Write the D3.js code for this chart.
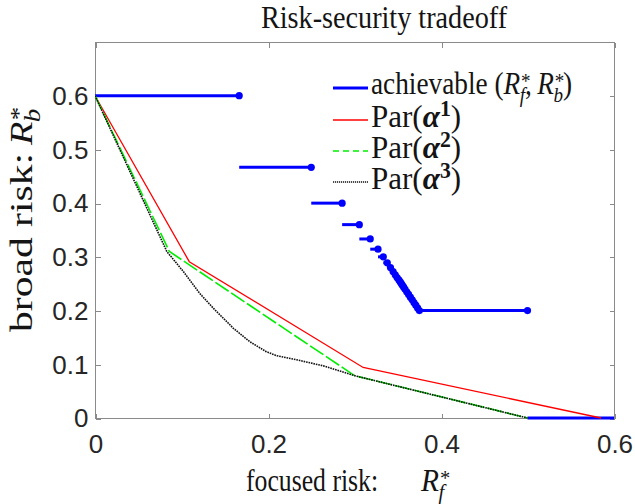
<!DOCTYPE html>
<html>
<head>
<meta charset="utf-8">
<script src="https://cdn.jsdelivr.net/npm/d3@7"></script>
<style>
  html, body { margin: 0; padding: 0; background: #fff; }
  svg { display: block; }
</style>
</head>
<body>
<svg id="chart" width="635" height="504"></svg>
<script>
// Achievable (R_f*, R_b*) corners. Step i runs horizontally from the previous
// corner's focused risk (0 for the first) to achF[i] at broad risk achB[i].
const achF = [0.1667, 0.25, 0.2857, 0.3056, 0.3182, 0.3272, 0.3333, 0.3379, 0.3416,
              0.3446, 0.3471, 0.3492, 0.3513, 0.3529, 0.3542, 0.3554, 0.3567, 0.3583,
              0.3604, 0.3625, 0.3646, 0.3667, 0.3687, 0.3708, 0.3729, 0.375, 0.5];
const achB = [0.6, 0.4667, 0.4, 0.36, 0.3333, 0.3143, 0.30, 0.2889, 0.28,
              0.2727, 0.2667, 0.2615, 0.2571, 0.2533, 0.25, 0.247, 0.244, 0.24,
              0.235, 0.23, 0.225, 0.22, 0.215, 0.21, 0.205, 0.2, 0.2];
// Zero broad risk is achievable once focused risk reaches 0.5
const floorF = [0.5, 0.6];
const floorB = [0, 0];

// Pareto fronts for the three weightings
const par1F = [0, 0.109, 0.310, 0.585];
const par1B = [0.6, 0.291, 0.094, 0];
const par2F = [0, 0.086, 0.300, 0.5];
const par2B = [0.6, 0.310, 0.079, 0];
const par3F = [0, 0.083, 0.102, 0.121, 0.137, 0.160, 0.179, 0.198, 0.210, 0.237, 0.264, 0.302, 0.5];
const par3B = [0.6, 0.310, 0.273, 0.232, 0.204, 0.167, 0.142, 0.1235, 0.116, 0.107, 0.097, 0.078, 0];

const xTicks = [0, 0.2, 0.4, 0.6];
const xTickLabels = ["0", "0.2", "0.4", "0.6"];
const yTicks = [0, 0.1, 0.2, 0.3, 0.4, 0.5, 0.6];
const yTickLabels = ["0", "0.1", "0.2", "0.3", "0.4", "0.5", "0.6"];

const legendLabels = ["achievable", "Par", "Par", "Par"];
const legendExps = [null, "1", "2", "3"];

const plot = { left: 95, right: 614, top: 42, bottom: 418 };
const SERIF = "'Liberation Serif', 'Times New Roman', serif";
const SANS = "'Liberation Sans', Arial, Helvetica, sans-serif";
const INK = "#262626";
const TEXT = "#141414";

const svg = d3.select("#chart");

const x = d3.scaleLinear().domain([0, 0.6]).range([plot.left, plot.right]);
const y = d3.scaleLinear().domain([0, 0.7]).range([plot.bottom, plot.top]);

svg.append("defs").append("clipPath").attr("id", "plotClip")
  .append("rect")
  .attr("x", plot.left).attr("y", plot.top - 6)
  .attr("width", plot.right - plot.left).attr("height", plot.bottom - plot.top + 8);

// Axes box
svg.append("rect")
  .attr("x", plot.left + 0.5).attr("y", plot.top + 0.5)
  .attr("width", plot.right - plot.left).attr("height", plot.bottom - plot.top)
  .attr("fill", "none").attr("stroke", "#8a8a8a").attr("stroke-width", 1)
  .attr("shape-rendering", "crispEdges");

function styleAxis(g) {
  g.select(".domain").remove();
  g.selectAll(".tick line").attr("stroke", "#8a8a8a").attr("shape-rendering", "crispEdges");
  g.selectAll(".tick text").attr("fill", INK).attr("font-family", SANS).attr("font-size", 26);
}

svg.append("g").attr("transform", `translate(0.5,${plot.bottom + 0.5})`)
  .call(d3.axisBottom(x).tickValues(xTicks).tickSize(-5).tickPadding(16.5)
    .tickFormat((d, i) => xTickLabels[i]))
  .call(styleAxis);
svg.append("g").attr("transform", `translate(0.5,${plot.top + 0.5})`)
  .call(d3.axisTop(x).tickValues(xTicks).tickSize(-5).tickFormat(""))
  .call(styleAxis);
svg.append("g").attr("transform", `translate(${plot.left + 0.5},0.5)`)
  .call(d3.axisLeft(y).tickValues(yTicks).tickSize(-5).tickPadding(7)
    .tickFormat((d, i) => yTickLabels[i]))
  .call(styleAxis);
svg.append("g").attr("transform", `translate(${plot.right + 0.5},0.5)`)
  .call(d3.axisRight(y).tickValues(yTicks).tickSize(-5).tickFormat(""))
  .call(styleAxis);

// Data layer
const data = svg.append("g").attr("clip-path", "url(#plotClip)");
const BLUE = "#0000ff", RED = "#ff0000", GREEN = "#00ee00", BLACK = "#111";

const steps = achF.map((f, i) => ({ f0: i === 0 ? 0 : achF[i - 1], f1: f, b: achB[i] }));
data.append("g").selectAll("line").data(steps).join("line")
  .attr("x1", d => x(d.f0)).attr("x2", d => x(d.f1))
  .attr("y1", d => y(d.b)).attr("y2", d => y(d.b))
  .attr("stroke", BLUE).attr("stroke-width", 3);
data.append("g").selectAll("circle").data(steps).join("circle")
  .attr("cx", d => x(d.f1)).attr("cy", d => y(d.b)).attr("r", 3.6)
  .attr("fill", BLUE);

const line = d3.line().x(d => x(d[0])).y(d => y(d[1]));
data.append("path").datum(d3.zip(floorF, floorB)).attr("d", line)
  .attr("fill", "none").attr("stroke", BLUE).attr("stroke-width", 3);

data.append("path").datum(d3.zip(par1F, par1B)).attr("d", line)
  .attr("fill", "none").attr("stroke", RED).attr("stroke-width", 1.3);
data.append("path").datum(d3.zip(par2F, par2B)).attr("d", line)
  .attr("fill", "none").attr("stroke", GREEN).attr("stroke-width", 1.6)
  .attr("stroke-dasharray", "16,3");
data.append("path").datum(d3.zip(par3F, par3B)).attr("d", line)
  .attr("fill", "none").attr("stroke", BLACK).attr("stroke-width", 1.6)
  .attr("stroke-dasharray", "1.6,0.9");

// Serif text: placed at (tx, ty), optionally rotated, then stretched by (sx, sy)
function serifText(tx, ty, anchor, fs, sx, sy, rot) {
  return svg.append("text")
    .attr("transform", `translate(${tx},${ty})` + (rot ? ` rotate(${rot})` : "") + ` scale(${sx},${sy})`)
    .attr("text-anchor", anchor)
    .attr("font-family", SERIF).attr("font-size", fs).attr("fill", TEXT);
}
// R with a starred superscript and an italic subscript; returns the subscript drop
function addR(t, sub, fs) {
  const ss = fs * 0.7;
  t.append("tspan").attr("font-style", "italic").text("R");
  t.append("tspan").attr("font-size", ss).attr("dx", 1).attr("dy", -fs * 0.2).text("*");
  t.append("tspan").attr("font-size", ss).attr("font-style", "italic")
    .attr("dx", -ss * 0.5 - 1.5).attr("dy", fs * 0.2 + fs * 0.25).text(sub);
  return fs * 0.25;
}

// Title
serifText(384, 28, "middle", 31, 0.91, 1).text("Risk-security tradeoff");

// x label
serifText(246, 491, "start", 31, 0.83, 1).text("focused risk:");
addR(serifText(421, 491, "start", 31, 0.95, 1), "f", 31);

// y label
serifText(32, 332, "start", 32, 1.3, 1, -90).text("broad risk:");
addR(serifText(32, 145, "start", 32, 1.2, 1, -90), "b", 32);

// Legend
const legendRows = [88, 120, 151, 182];
const legendStyles = [
  { stroke: BLUE, width: 3, dash: null },
  { stroke: RED, width: 1.3, dash: null },
  { stroke: GREEN, width: 1.6, dash: "6,4" },
  { stroke: BLACK, width: 1.3, dash: "1.2,0.8" }
];
const leg = svg.append("g");
legendRows.forEach((ry, i) => {
  const s = legendStyles[i];
  leg.append("line").attr("x1", 333).attr("x2", 368).attr("y1", ry).attr("y2", ry)
    .attr("stroke", s.stroke).attr("stroke-width", s.width)
    .attr("stroke-dasharray", s.dash);
  if (legendExps[i] === null) {
    const fs = 31;
    const t = serifText(371, ry + 6, "start", fs, 0.88, 1);
    t.append("tspan").text(legendLabels[i] + " (");
    const d1 = addR(t, "f", fs);
    t.append("tspan").attr("dy", -d1).text(",\u2009");
    const d2 = addR(t, "b", fs);
    t.append("tspan").attr("dy", -d2).text(")");
  } else {
    const fs = 32;
    const t = serifText(371, ry + 7, "start", fs, 0.97, 1);
    t.append("tspan").text(legendLabels[i] + "(");
    t.append("tspan").attr("font-style", "italic").attr("font-weight", "bold").text("\u03B1");
    t.append("tspan").attr("font-weight", "bold").attr("font-size", fs * 0.7)
      .attr("dy", -fs * 0.35).text(legendExps[i]);
    t.append("tspan").attr("dy", fs * 0.35).text(")");
  }
});
</script>
</body>
</html>
